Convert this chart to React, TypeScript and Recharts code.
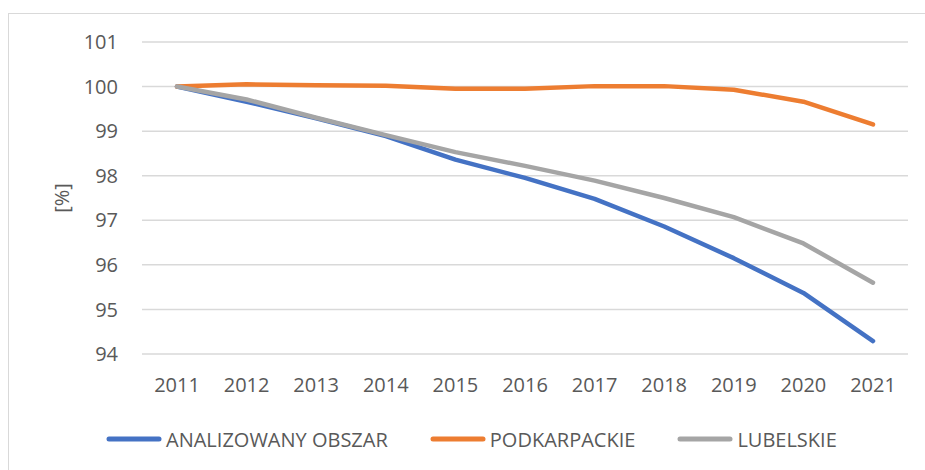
import React from 'react';
import { LineChart, Line, XAxis, YAxis, CartesianGrid, Legend } from 'recharts';

// Years on the category axis
const years = ['2011', '2012', '2013', '2014', '2015', '2016', '2017', '2018', '2019', '2020', '2021'];

// Series values [%]
const analizowanyObszar = [100, 99.66, 99.29, 98.89, 98.36, 97.95, 97.48, 96.86, 96.15, 95.37, 94.29];
const podkarpackie = [100, 100.05, 100.03, 100.02, 99.95, 99.95, 100.01, 100.01, 99.93, 99.66, 99.15];
const lubelskie = [100, 99.71, 99.3, 98.91, 98.53, 98.22, 97.89, 97.5, 97.07, 96.48, 95.6];

const seriesNames = ['ANALIZOWANY OBSZAR', 'PODKARPACKIE', 'LUBELSKIE'];
const yTicks = [94, 95, 96, 97, 98, 99, 100, 101];

const data = years.map((year, i) => ({
  year,
  analizowany: analizowanyObszar[i],
  podkarpackie: podkarpackie[i],
  lubelskie: lubelskie[i],
}));

const FONT = '"Open Sans", "Noto Sans", sans-serif';
const TEXT_COLOR = '#595959';
const GRID_COLOR = '#d9d9d9';

// Legend drawn like Excel: long thick line sample, then the name
const LegendContent = ({ payload }: any) => {
  const items = [...(payload || [])].sort(
    (a: any, b: any) => seriesNames.indexOf(a.value) - seriesNames.indexOf(b.value)
  );
  return (
    <div
      style={{
        display: 'flex',
        alignItems: 'center',
        height: 30,
        paddingLeft: 106,
        fontFamily: FONT,
        fontSize: 20,
        color: TEXT_COLOR,
      }}
    >
      {items.map((entry: any, index: number) => (
        <div key={entry.value} style={{ display: 'flex', alignItems: 'center', marginLeft: index === 0 ? 0 : 42 }}>
          <svg width={56} height={10}>
            <line x1={3} y1={5} x2={53} y2={5} stroke={entry.color} strokeWidth={5} strokeLinecap="round" />
          </svg>
          <span style={{ marginLeft: 4, whiteSpace: 'nowrap' }}>{entry.value}</span>
        </div>
      ))}
    </div>
  );
};

const YLabel = ({ viewBox }: any) => {
  const cx = viewBox.x + viewBox.width / 2 - 10;
  const cy = viewBox.y + viewBox.height / 2;
  return (
    <text
      x={cx}
      y={cy}
      transform={`rotate(-90 ${cx} ${cy})`}
      textAnchor="middle"
      dominantBaseline="central"
      fill={TEXT_COLOR}
      fontSize={20}
      fontFamily={FONT}
    >
      [%]
    </text>
  );
};

export default function App() {
  return (
    <div
      style={{
        position: 'absolute',
        left: 0,
        top: 0,
        width: 925,
        height: 470,
        overflow: 'hidden',
        background: '#fff',
      }}
    >
      {/* chart frame, its right and bottom edges fall outside the picture */}
      <div
        style={{
          position: 'absolute',
          left: 8,
          top: 13,
          width: 940,
          height: 480,
          border: `1.5px solid ${GRID_COLOR}`,
        }}
      />
      <div style={{ position: 'absolute', left: 0, top: 0 }}>
        <LineChart width={925} height={470} data={data} margin={{ top: 42, right: 17, left: 0, bottom: 46 }}>
          <CartesianGrid vertical={false} stroke={GRID_COLOR} strokeWidth={1.5} />
          <XAxis
            dataKey="year"
            axisLine={false}
            tickLine={false}
            tickSize={0}
            tickMargin={24}
            height={40}
            interval={0}
            padding={{ left: 35, right: 35 }}
            tick={{ fill: TEXT_COLOR, fontSize: 20, fontFamily: FONT }}
          />
          <YAxis
            domain={[94, 101]}
            ticks={yTicks}
            axisLine={false}
            tickLine={false}
            tickSize={0}
            tickMargin={24}
            width={142}
            tick={{ fill: TEXT_COLOR, fontSize: 20, fontFamily: FONT }}
            label={<YLabel />}
          />
          <Legend
            verticalAlign="bottom"
            content={<LegendContent />}
            wrapperStyle={{ left: 0, top: 424, width: 925, height: 30 }}
          />
          <Line
            type="linear"
            dataKey="analizowany"
            name={seriesNames[0]}
            stroke="#4472C4"
            strokeWidth={4.5}
            strokeLinecap="round"
            strokeLinejoin="round"
            dot={false}
            activeDot={false}
            isAnimationActive={false}
          />
          <Line
            type="linear"
            dataKey="podkarpackie"
            name={seriesNames[1]}
            stroke="#ED7D31"
            strokeWidth={4.5}
            strokeLinecap="round"
            strokeLinejoin="round"
            dot={false}
            activeDot={false}
            isAnimationActive={false}
          />
          <Line
            type="linear"
            dataKey="lubelskie"
            name={seriesNames[2]}
            stroke="#A5A5A5"
            strokeWidth={4.5}
            strokeLinecap="round"
            strokeLinejoin="round"
            dot={false}
            activeDot={false}
            isAnimationActive={false}
          />
        </LineChart>
      </div>
    </div>
  );
}
